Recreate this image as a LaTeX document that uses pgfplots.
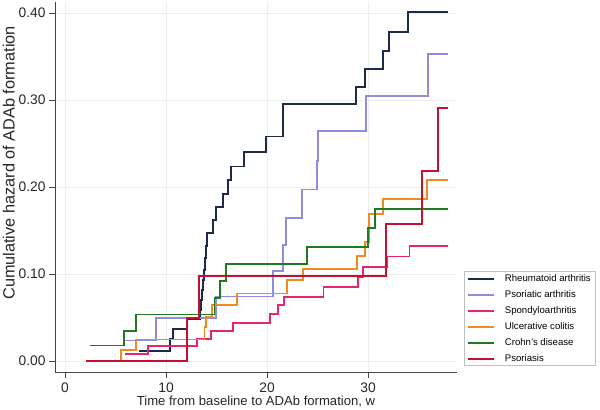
\documentclass[border=0pt]{standalone}
\usepackage{pgfplots}
\pgfplotsset{compat=1.18}
\usepackage{fontspec}
\setmainfont{Liberation Sans}
\definecolor{cra}{HTML}{1C2B4B}
\definecolor{cpsa}{HTML}{8E8CDC}
\definecolor{cspa}{HTML}{E8246E}
\definecolor{cuc}{HTML}{F28A22}
\definecolor{ccd}{HTML}{1E7A1E}
\definecolor{cps}{HTML}{C8102E}
\definecolor{axcol}{HTML}{444444}
\begin{document}
\begin{tikzpicture}[x=1bp,y=1bp]
\path[use as bounding box] (0,0) rectangle (600,409);
\begin{axis}[
  at={(55bp,37bp)}, anchor=south west,
  scale only axis, width=402bp, height=370bp,
  xmin=-0.99, xmax=38.81, ymin=-0.01264, ymax=0.4126,
  axis lines=left,
  axis line style={-, draw=axcol, line width=0.8bp},
  xtick={0,10,20,30},
  ytick={0,0.1,0.2,0.3,0.4},
  yticklabels={0.00,0.10,0.20,0.30,0.40},
  tick align=outside, major tick length=6bp,
  tick style={draw=axcol, line width=0.8bp},
  grid=major, grid style={draw=black!7, line width=0.6bp},
  ticklabel style={font=\fontsize{13.8bp}{15bp}\selectfont, text=black!85},
  xticklabel style={yshift=-1bp},
  /pgf/number format/assume math mode=true,
  xlabel={Time from baseline to ADAb formation, w},
  ylabel={Cumulative hazard of ADAb formation},
  xlabel style={font=\fontsize{13.1bp}{15bp}\selectfont, text=black!85,
    at={(axis description cs:0.5,-0.0892)}, anchor=base},
  ylabel style={font=\fontsize{16.3bp}{18bp}\selectfont, text=black!85,
    at={(axis description cs:-0.115,0.565)}, anchor=center},
  legend cell align=left,
  legend image code/.code={\draw[#1, line width=1.6bp] (0bp,0bp) -- (26bp,0bp);},
  legend style={at={(rel axis cs:1.0174,0.0162)}, anchor=south west,
    draw=black!25, line width=0.6bp,
    font=\fontsize{9.6bp}{11bp}\selectfont,
    inner xsep=3bp, inner ysep=1.5bp,
    nodes={inner sep=1bp, text height=7bp, text depth=2bp},
    row sep=5bp,
    /tikz/every odd column/.append style={column sep=9bp}},
  const plot,
]
\addplot[cra, line width=1.8bp] coordinates {(7.33,0.0118) (10.40,0.0249) (10.72,0.0368) (12.05,0.0483) (13.37,0.0586) (13.47,0.0701) (13.59,0.0816) (13.69,0.0931) (13.79,0.1046) (13.89,0.1184) (13.96,0.1322) (14.09,0.1468) (14.68,0.1621) (14.95,0.1767) (15.67,0.1920) (16.14,0.2080) (16.41,0.2236) (17.69,0.2399) (19.87,0.2580) (21.55,0.2951) (28.81,0.3146) (29.70,0.3353) (31.51,0.3567) (32.08,0.3782) (33.93,0.4015) (37.89,0.4015)};
\addlegendentry{Rheumatoid arthritis}
\addplot[cpsa, line width=1.8bp] coordinates {(5.87,0.0236) (9.01,0.0491) (14.95,0.0741) (20.62,0.1038) (21.61,0.1333) (21.88,0.1647) (23.50,0.1971) (24.92,0.2299) (25.08,0.2647) (29.80,0.3049) (35.91,0.3529) (37.89,0.3529)};
\addlegendentry{Psoriatic arthritis}
\addplot[cspa, line width=1.8bp] coordinates {(5.95,0.0085) (8.25,0.0176) (13.1,0.0253) (14.43,0.0345) (16.6,0.044) (20.3,0.0537) (21.1,0.064) (21.7,0.074) (25.6,0.085) (28.98,0.097) (29.5,0.108) (31.85,0.120) (34.1,0.1325) (37.89,0.1325)};
\addlegendentry{Spondyloarthritis}
\addplot[cuc, line width=1.8bp] coordinates {(2.05,0) (5.54,0.0123) (7.0,0.0247) (13.81,0.0394) (13.96,0.0502) (14.52,0.0644) (17.0,0.0776) (21.95,0.0931) (23.53,0.1054) (28.94,0.1207) (29.70,0.1371) (30.10,0.1690) (31.46,0.1859) (35.87,0.2080) (37.89,0.2080)};
\addlegendentry{Ulcerative colitis}
\addplot[ccd, line width=1.8bp] coordinates {(2.48,0.0178) (5.87,0.0348) (7.03,0.0534) (14.80,0.0724) (15.38,0.0920) (15.94,0.1111) (23.93,0.1314) (29.97,0.1525) (30.69,0.1744) (37.89,0.1744)};
\addlegendentry{Crohn's disease}
\addplot[cps, line width=1.8bp] coordinates {(2.05,0) (12.05,0.0491) (13.30,0.0980) (31.81,0.1571) (35.38,0.2187) (36.90,0.2905) (37.89,0.2905)};
\addlegendentry{Psoriasis}
\end{axis}
\end{tikzpicture}
\end{document}
